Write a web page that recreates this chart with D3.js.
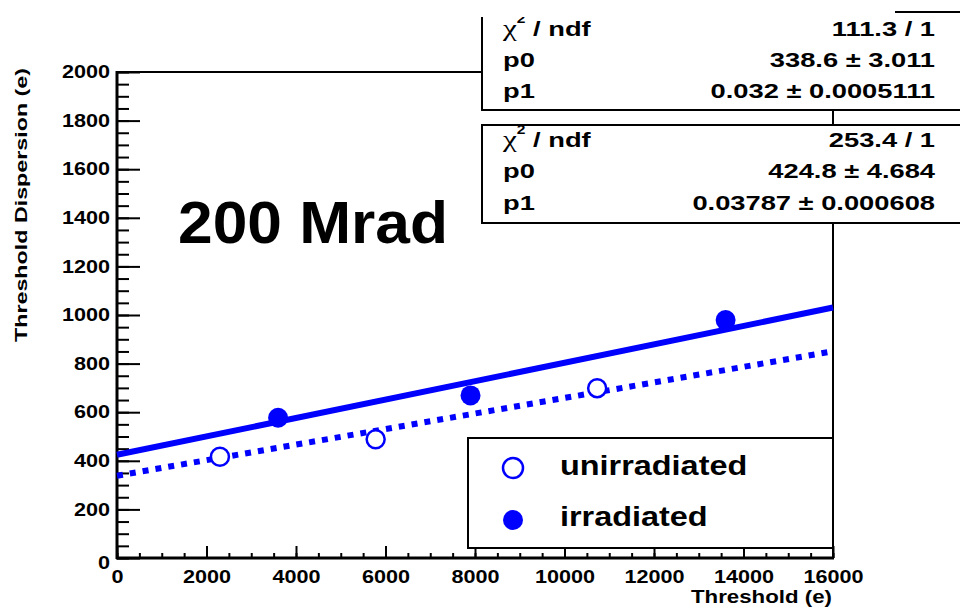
<!DOCTYPE html>
<html>
<head>
<meta charset="utf-8">
<script src="https://cdn.jsdelivr.net/npm/d3@7"></script>
<style>
  body { margin: 0; background: #fff; }
  text { font-family: "Liberation Sans", Arial, sans-serif; font-weight: bold; fill: #000; }
</style>
</head>
<body>
<div id="chart"></div>
<script>
// measured points
var unirrX = [2300, 5780, 10730];
var unirrY = [417, 489, 699];
var irrX = [3600, 7900, 13600];
var irrY = [577, 669, 979];

// fit results  (p0 + p1 * x)
var unirrFit = [338.6, 0.032];
var irrFit = [424.8, 0.03787];

var statLabels = ["/ ndf", "p0", "p1"];
var unirrStats = ["111.3 / 1", "338.6 \u00b1 3.011", "0.032 \u00b1 0.0005111"];
var irrStats = ["253.4 / 1", "424.8 \u00b1 4.684", "0.03787 \u00b1 0.000608"];

var legendLabels = ["unirradiated", "irradiated"];

var svgWidth = 960, svgHeight = 608;
var blue = "#0000ff";

var svg = d3.select("#chart").append("svg")
  .attr("width", svgWidth)
  .attr("height", svgHeight);

var x = d3.scaleLinear().domain([0, 16000]).range([117, 833]);
var y = d3.scaleLinear().domain([0, 2000]).range([558, 72]);

// stretch text horizontally like the original raster
function stretch(sel, k) {
  sel.each(function() {
    var L = this.getComputedTextLength();
    d3.select(this).attr("textLength", L * k).attr("lengthAdjust", "spacingAndGlyphs");
  });
}

// minor ticks
svg.append("g")
  .attr("transform", "translate(117,0)")
  .call(d3.axisLeft(y).tickValues(d3.range(0, 2001, 50)).tickSize(-12).tickFormat(""))
  .call(g => g.select(".domain").remove())
  .selectAll("line").attr("stroke", "#000").attr("stroke-width", 2);

svg.append("g")
  .attr("transform", "translate(0,558)")
  .call(d3.axisBottom(x).tickValues(d3.range(0, 16001, 500)).tickSize(-5).tickFormat(""))
  .call(g => g.select(".domain").remove())
  .selectAll("line").attr("stroke", "#000").attr("stroke-width", 2);

// major ticks + labels
var yAxis = svg.append("g")
  .attr("transform", "translate(117,0)")
  .call(d3.axisLeft(y).tickValues(d3.range(0, 2001, 200)).tickSize(-23).tickPadding(7)
    .tickFormat(d3.format("d")));
yAxis.select(".domain").remove();
yAxis.selectAll("line").attr("stroke", "#000").attr("stroke-width", 2);
yAxis.selectAll("text")
  .attr("font-size", 18)
  .attr("font-family", "Liberation Sans, Arial, sans-serif")
  .attr("fill", "#222")
  .call(stretch, 1.2);
yAxis.selectAll(".tick").filter(d => d === 0).select("text").attr("dy", "0.6em");

var xAxis = svg.append("g")
  .attr("transform", "translate(0,558)")
  .call(d3.axisBottom(x).tickValues(d3.range(0, 16001, 2000)).tickSize(-12).tickPadding(12)
    .tickFormat(d3.format("d")));
xAxis.select(".domain").remove();
xAxis.selectAll("line").attr("stroke", "#000").attr("stroke-width", 2);
xAxis.selectAll("text")
  .attr("font-size", 18)
  .attr("font-family", "Liberation Sans, Arial, sans-serif")
  .attr("fill", "#222")
  .call(stretch, 1.2);

// frame
svg.append("rect")
  .attr("x", 117).attr("y", 72)
  .attr("width", 716).attr("height", 486)
  .attr("fill", "none").attr("stroke", "#000").attr("stroke-width", 2);
svg.append("line").attr("x1", 117).attr("x2", 117).attr("y1", 71).attr("y2", 559)
  .attr("stroke", "#000").attr("stroke-width", 3);
svg.append("line").attr("x1", 116).attr("x2", 834).attr("y1", 558).attr("y2", 558)
  .attr("stroke", "#000").attr("stroke-width", 3);

// fit lines
function fitLine(p) {
  return [0, 16000].map(v => [x(v), y(p[0] + p[1] * v)]);
}
var line = d3.line();

svg.append("path")
  .attr("d", line(fitLine(unirrFit)))
  .attr("fill", "none").attr("stroke", blue)
  .attr("stroke-width", 6).attr("stroke-dasharray", "6,7");

svg.append("path")
  .attr("d", line(fitLine(irrFit)))
  .attr("fill", "none").attr("stroke", blue)
  .attr("stroke-width", 6);

// markers
svg.selectAll(".unirr")
  .data(unirrX.map((v, i) => [v, unirrY[i]]))
  .enter().append("circle")
  .attr("cx", d => x(d[0])).attr("cy", d => y(d[1]))
  .attr("r", 9)
  .attr("fill", "#fff").attr("stroke", blue).attr("stroke-width", 2.5);

svg.selectAll(".irr")
  .data(irrX.map((v, i) => [v, irrY[i]]))
  .enter().append("circle")
  .attr("cx", d => x(d[0])).attr("cy", d => y(d[1]))
  .attr("r", 10)
  .attr("fill", blue);

// axis titles
svg.append("text")
  .attr("x", 832).attr("y", 603)
  .attr("text-anchor", "end")
  .attr("font-size", 18)
  .attr("fill", "#222")
  .attr("textLength", 141).attr("lengthAdjust", "spacingAndGlyphs")
  .text("Threshold (e)");

svg.append("text")
  .attr("transform", "translate(27,68) rotate(-90)")
  .attr("text-anchor", "end")
  .attr("font-size", 17)
  .attr("fill", "#222")
  .attr("textLength", 274).attr("lengthAdjust", "spacingAndGlyphs")
  .text("Threshold Dispersion (e)");

// big label
svg.append("text")
  .attr("x", 178).attr("y", 243)
  .attr("font-size", 59)
  .attr("textLength", 270).attr("lengthAdjust", "spacingAndGlyphs")
  .text("200 Mrad");

// legend
svg.append("rect")
  .attr("x", 468).attr("y", 438)
  .attr("width", 365).attr("height", 110)
  .attr("fill", "#fff").attr("stroke", "#000").attr("stroke-width", 2);

svg.append("circle").attr("cx", 513).attr("cy", 468).attr("r", 10)
  .attr("fill", "#fff").attr("stroke", blue).attr("stroke-width", 2.5);
svg.append("circle").attr("cx", 513).attr("cy", 520).attr("r", 10)
  .attr("fill", blue);

svg.selectAll(".leg")
  .data(legendLabels)
  .enter().append("text")
  .attr("x", 560).attr("y", (d, i) => 475 + i * 51)
  .attr("font-size", 27)
  .attr("fill", "#222")
  .text(d => d)
  .call(stretch, 1.2);

// stat boxes (text widened with a horizontal scale)
var kx = 1.3;
function statBox(top, bottom, vals, rows) {
  svg.append("rect")
    .attr("x", 482).attr("y", top)
    .attr("width", 600).attr("height", bottom - top)
    .attr("fill", "#fff").attr("stroke", "#000").attr("stroke-width", 2);
  rows.forEach(function(r, i) {
    var t = svg.append("g").attr("transform", `translate(503,${r}) scale(${kx},1)`)
      .append("text").attr("font-size", 21).attr("fill", "#222");
    if (i === 0) {
      t.append("tspan").attr("font-family", "Liberation Serif, serif").attr("font-weight", "normal")
        .attr("font-size", 24).text("\u03c7");
      t.append("tspan").attr("font-size", 12).attr("dy", -13).text("2");
      t.append("tspan").attr("dy", 13).text(" " + statLabels[0]);
    } else {
      t.text(statLabels[i]);
    }
    svg.append("g").attr("transform", `translate(935,${r}) scale(${kx},1)`)
      .append("text")
      .attr("text-anchor", "end").attr("font-size", 21).attr("fill", "#222")
      .text(vals[i]);
  });
}
statBox(-10, 110, unirrStats, [36, 67, 98]);
statBox(125, 223, irrStats, [147, 178, 210]);

// clipped top of the picture
svg.append("rect").attr("x", 470).attr("y", 0).attr("width", 490).attr("height", 17).attr("fill", "#fff");
svg.append("line").attr("x1", 895).attr("x2", 960).attr("y1", 12).attr("y2", 12)
  .attr("stroke", "#000").attr("stroke-width", 2);
</script>
</body>
</html>
